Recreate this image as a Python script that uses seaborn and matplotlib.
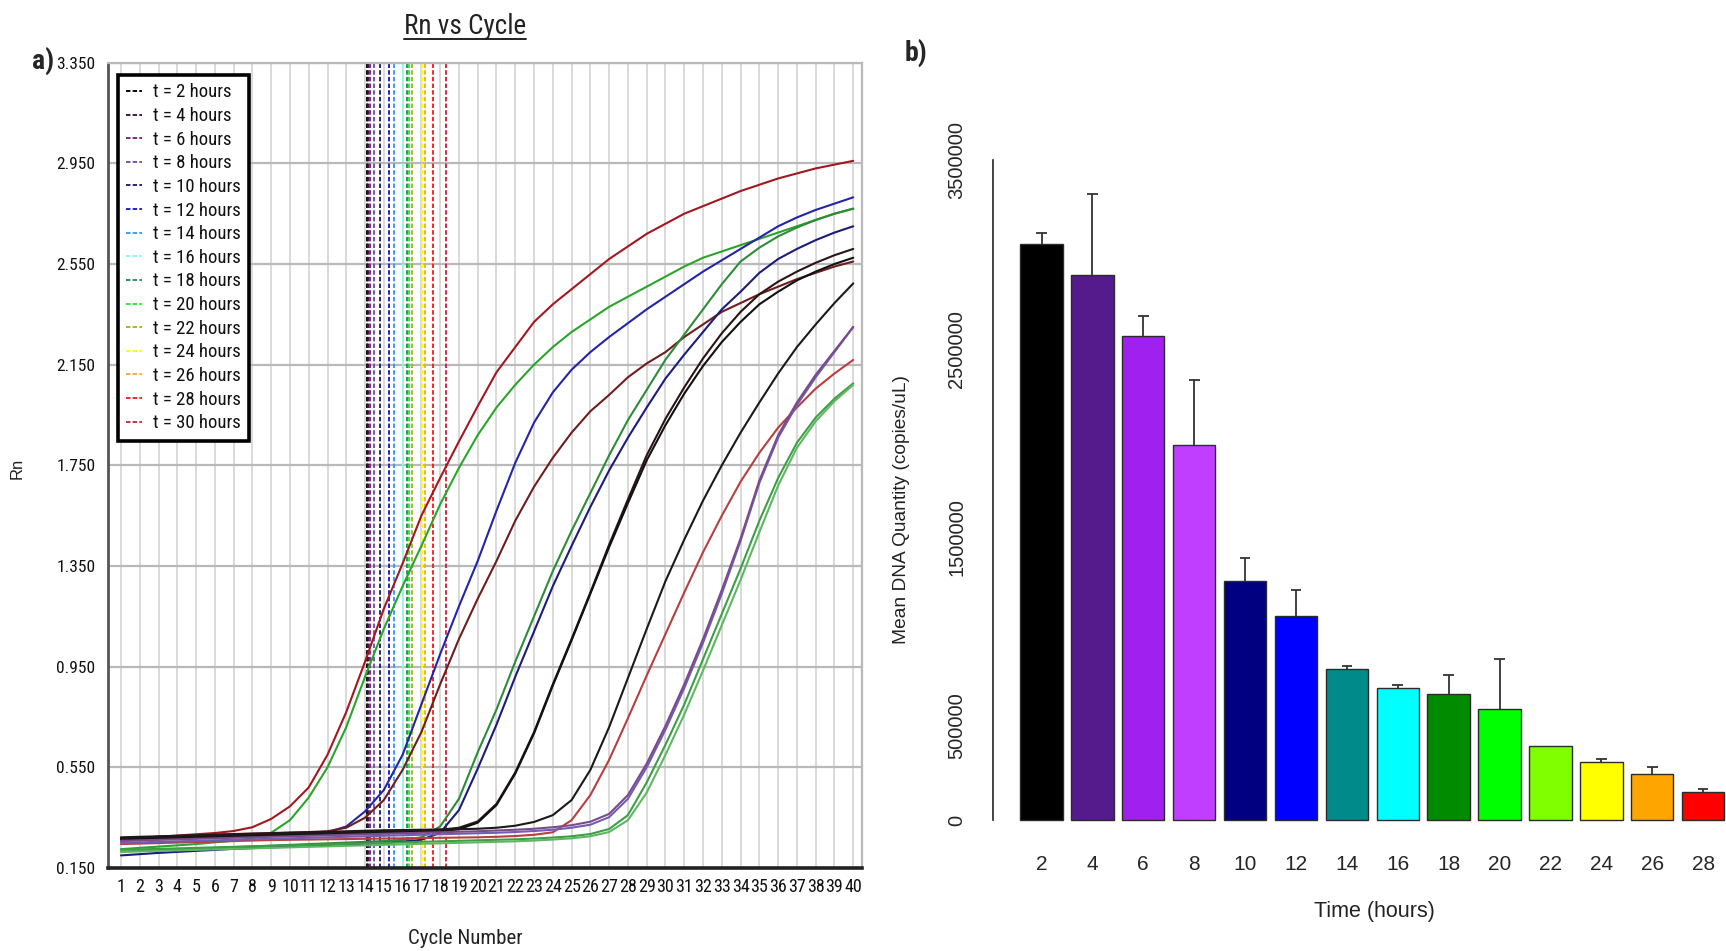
import numpy as np
import pandas as pd
import matplotlib
matplotlib.use("Agg")
import matplotlib.pyplot as plt
import seaborn as sns
from matplotlib import font_manager
from matplotlib.font_manager import FontProperties
from matplotlib.lines import Line2D

# ---------------- data: panel a (amplification curves) ----------------
cycles = list(range(1, 41))

rn_A = [0.265,0.270,0.274,0.279,0.284,0.289,0.297,0.312,0.345,0.395,0.470,0.600,0.770,0.970,1.180,1.360,1.550,1.700,1.845,1.985,2.120,2.220,2.320,2.390,2.450,2.510,2.570,2.620,2.670,2.710,2.750,2.780,2.810,2.840,2.865,2.890,2.910,2.930,2.945,2.960]
rn_B = [0.225,0.230,0.235,0.240,0.245,0.252,0.258,0.268,0.290,0.340,0.430,0.550,0.710,0.910,1.100,1.270,1.430,1.595,1.740,1.870,1.980,2.070,2.150,2.220,2.280,2.330,2.380,2.420,2.460,2.500,2.540,2.575,2.600,2.625,2.650,2.675,2.700,2.725,2.750,2.770]
rn_C = [0.258,0.261,0.264,0.267,0.270,0.273,0.276,0.279,0.282,0.285,0.288,0.292,0.315,0.375,0.460,0.600,0.800,1.000,1.190,1.370,1.570,1.760,1.920,2.040,2.130,2.200,2.260,2.315,2.370,2.420,2.470,2.520,2.565,2.610,2.655,2.700,2.735,2.765,2.790,2.815]
rn_D = [0.268,0.271,0.274,0.277,0.280,0.283,0.285,0.287,0.289,0.291,0.293,0.296,0.310,0.350,0.420,0.540,0.690,0.880,1.060,1.220,1.370,1.530,1.665,1.780,1.880,1.965,2.030,2.100,2.155,2.200,2.260,2.310,2.360,2.395,2.430,2.460,2.490,2.515,2.540,2.560]
rn_E = [0.215,0.218,0.221,0.224,0.227,0.230,0.233,0.236,0.239,0.242,0.245,0.248,0.251,0.254,0.257,0.262,0.272,0.315,0.425,0.610,0.780,0.970,1.150,1.330,1.490,1.640,1.790,1.930,2.050,2.170,2.270,2.370,2.470,2.560,2.615,2.660,2.695,2.725,2.750,2.770]
rn_F = [0.200,0.205,0.210,0.214,0.218,0.222,0.226,0.229,0.232,0.235,0.238,0.241,0.244,0.247,0.250,0.254,0.262,0.290,0.380,0.545,0.720,0.910,1.090,1.270,1.430,1.585,1.730,1.860,1.980,2.095,2.190,2.280,2.370,2.440,2.515,2.570,2.610,2.645,2.675,2.700]
rn_G1 = [0.268,0.270,0.272,0.274,0.276,0.278,0.280,0.282,0.284,0.286,0.288,0.290,0.292,0.294,0.296,0.298,0.300,0.302,0.310,0.335,0.405,0.530,0.690,0.880,1.060,1.245,1.435,1.615,1.790,1.935,2.060,2.175,2.275,2.360,2.430,2.480,2.520,2.555,2.585,2.610]
rn_G2 = [0.262,0.264,0.266,0.268,0.270,0.272,0.274,0.276,0.278,0.280,0.282,0.284,0.286,0.288,0.290,0.292,0.294,0.296,0.304,0.330,0.400,0.525,0.685,0.875,1.055,1.240,1.425,1.600,1.770,1.910,2.035,2.145,2.240,2.320,2.390,2.440,2.485,2.520,2.550,2.575]
rn_H = [0.272,0.274,0.276,0.278,0.280,0.282,0.284,0.286,0.288,0.290,0.292,0.294,0.296,0.298,0.300,0.301,0.302,0.303,0.304,0.306,0.310,0.318,0.333,0.360,0.420,0.540,0.710,0.905,1.100,1.290,1.455,1.610,1.750,1.880,2.000,2.115,2.220,2.310,2.395,2.473]
rn_I = [0.245,0.247,0.249,0.251,0.253,0.255,0.257,0.259,0.261,0.262,0.263,0.264,0.265,0.266,0.267,0.268,0.269,0.270,0.271,0.272,0.274,0.277,0.282,0.292,0.340,0.440,0.580,0.745,0.915,1.080,1.245,1.405,1.550,1.685,1.800,1.900,1.980,2.055,2.115,2.169]
rn_J1 = [0.250,0.252,0.254,0.256,0.258,0.260,0.262,0.264,0.266,0.268,0.270,0.272,0.274,0.276,0.278,0.280,0.282,0.284,0.286,0.288,0.290,0.293,0.297,0.302,0.310,0.322,0.352,0.425,0.550,0.700,0.865,1.045,1.240,1.450,1.680,1.860,1.990,2.100,2.200,2.300]
rn_J2 = [0.258,0.260,0.262,0.264,0.266,0.268,0.270,0.272,0.274,0.276,0.278,0.280,0.282,0.284,0.286,0.288,0.290,0.292,0.294,0.296,0.299,0.302,0.306,0.312,0.320,0.334,0.365,0.440,0.565,0.715,0.880,1.060,1.255,1.460,1.690,1.870,2.000,2.110,2.205,2.300]
rn_K1 = [0.222,0.224,0.226,0.228,0.230,0.232,0.234,0.236,0.238,0.240,0.242,0.244,0.246,0.248,0.250,0.252,0.254,0.256,0.258,0.260,0.262,0.264,0.267,0.271,0.276,0.285,0.305,0.360,0.490,0.640,0.800,0.980,1.160,1.340,1.530,1.700,1.840,1.940,2.015,2.076]
rn_K2 = [0.214,0.216,0.218,0.220,0.222,0.224,0.226,0.228,0.230,0.232,0.234,0.236,0.238,0.240,0.242,0.244,0.246,0.248,0.250,0.252,0.254,0.256,0.259,0.263,0.268,0.276,0.293,0.340,0.450,0.600,0.760,0.935,1.115,1.295,1.485,1.670,1.820,1.925,2.005,2.070]

curve_names = ["A", "B", "C", "D", "E", "F", "G1", "G2", "H", "I", "J1", "J2", "K1", "K2"]
curve_values = [rn_A, rn_B, rn_C, rn_D, rn_E, rn_F, rn_G1, rn_G2, rn_H, rn_I, rn_J1, rn_J2, rn_K1, rn_K2]
curve_colors = ["#a3171f", "#2aa52a", "#2424a8", "#6e1e1e", "#2e8b3a", "#1c1c7a", "#2b1414",
                "#111111", "#1a1a1a", "#b5403f", "#6f5db8", "#7b4b88", "#3e9e48", "#5db860"]

threshold_hours = [2, 4, 6, 8, 10, 12, 14, 16, 18, 20, 22, 24, 26, 28, 30]
threshold_cycles = [14.08, 14.17, 14.26, 14.47, 14.79, 15.29, 15.54, 16.03, 16.21, 16.35, 16.48, 17.01, 17.19, 17.63, 18.29]
threshold_colors = ["#000000", "#3a0d35", "#861a86", "#7050b0", "#202060", "#1a1ad0", "#3399ff", "#80ffee",
                    "#2e8b57", "#22ee22", "#9ab82a", "#ffff00", "#f0b030", "#ff1a1a", "#c8283c"]

rn_ticks = [0.150, 0.550, 0.950, 1.350, 1.750, 2.150, 2.550, 2.950, 3.350]

# ---------------- data: panel b (bars) ----------------
bar_hours = [2, 4, 6, 8, 10, 12, 14, 16, 18, 20, 22, 24, 26, 28]
bar_means = [3056000, 2894000, 2569000, 1987000, 1270000, 1081000, 803000, 702000, 667000, 588000, 390000, 307000, 242000, 147000]
bar_err = [60000, 425000, 107000, 350000, 119000, 140000, 12000, 12000, 103000, 266000, 0, 19000, 37000, 16000]
bar_colors = ["#000000", "#551a8b", "#a020f0", "#bf3eff", "#000080", "#0000ff", "#008b8b",
              "#00ffff", "#008b00", "#00ff00", "#7fff00", "#ffff00", "#ffa500", "#ff0000"]
bar_yticks = [0, 500000, 1000000, 1500000, 2000000, 2500000, 3000000, 3500000]
bar_yticklabels = ["0", "500000", "", "1500000", "", "2500000", "", "3500000"]

# ---------------- fonts ----------------
sns.set_style("white")
REG = "Liberation Sans"
plt.rcParams["font.family"] = [REG, "DejaVu Sans"]
plt.rcParams["lines.scale_dashes"] = False


def _w(f):
    w = f.weight
    return font_manager.weight_dict.get(w, 400) if isinstance(w, str) else int(w)


def _s(f):
    s = f.stretch
    return font_manager.stretch_dict.get(s, 500) if isinstance(s, str) else int(s)


pref = ["Liberation Sans Narrow", "Roboto Condensed", "Open Sans Condensed", "Noto Sans",
        "Noto Sans Condensed", "DejaVu Sans", "DejaVu Sans Condensed"]
cands = [f for f in font_manager.fontManager.ttflist
         if f.style == "normal" and (_s(f) <= 400 or "Narrow" in f.name or "Condensed" in f.name)
         and "Mono" not in f.name and "CJK" not in f.name and "Serif" not in f.name]


def _pick(target_w):
    if not cands:
        return None
    def key(f):
        pi = pref.index(f.name) if f.name in pref else len(pref)
        return (abs(_s(f) - 300) if "Narrow" not in f.name else 0, pi, abs(_w(f) - target_w))
    return sorted(cands, key=key)[0].fname


NARROW_FILE = _pick(400)
NARROW_BOLD_FILE = _pick(700)
SCALE = 1.0 if NARROW_FILE else 0.84


def NP(size, bold=False):
    fn = NARROW_BOLD_FILE if bold else NARROW_FILE
    if fn:
        p = FontProperties(fname=fn)
    else:
        p = FontProperties(family=[REG, "DejaVu Sans"], weight="bold" if bold else "normal")
    p.set_size(size * SCALE)
    return p


W, H = 1726, 951
fig = plt.figure(figsize=(W / 100, H / 100), dpi=100)
fig.patch.set_facecolor("white")

# ---------------- panel a ----------------
ax1 = fig.add_axes([108 / W, 1 - 868 / H, (861.7 - 108) / W, (868 - 62.7) / H])
rows = []
for nm, vals in zip(curve_names, curve_values):
    for c, v in zip(cycles, vals):
        rows.append({"cycle": c, "rn": v, "well": nm})
df = pd.DataFrame(rows)

for h, c, col in zip(threshold_hours, threshold_cycles, threshold_colors):
    ax1.axvline(c, color=col, ls=(0, (3.2, 1.6)), lw=1.35, label=f"t = {h} hours", zorder=1.5)

sns.lineplot(data=df, x="cycle", y="rn", hue="well", hue_order=curve_names,
             palette=dict(zip(curve_names, curve_colors)), estimator=None, errorbar=None,
             legend=False, lw=1.5, ax=ax1, zorder=2)

ax1.set_xlim(0.31, 40.45)
ax1.set_ylim(0.15, 3.35)
ax1.set_xticks(cycles)
ax1.set_xticklabels([str(c) for c in cycles])
ax1.set_yticks(rn_ticks)
ax1.set_yticklabels([f"{t:.3f}" for t in rn_ticks])
ax1.set_axisbelow(True)
ax1.grid(axis="x", color="#cfcfcf", lw=1.1)
ax1.grid(axis="y", color="#b9b9b9", lw=1.6)
ax1.set_xlabel("")
ax1.set_ylabel("")
ax1.tick_params(axis="x", length=0, pad=7, colors="#111111")
ax1.tick_params(axis="y", length=0, pad=9, colors="#111111")
for lab in ax1.get_xticklabels():
    lab.set_fontproperties(NP(13))
for lab in ax1.get_yticklabels():
    lab.set_fontproperties(NP(12.5))
ax1.spines["left"].set_color("#555555")
ax1.spines["left"].set_linewidth(2)
ax1.spines["bottom"].set_color("#222222")
ax1.spines["bottom"].set_linewidth(2.6)
ax1.spines["top"].set_color("#b9b9b9")
ax1.spines["top"].set_linewidth(1.6)
ax1.spines["right"].set_color("#b9b9b9")
ax1.spines["right"].set_linewidth(1.6)

leg = ax1.legend(loc="upper left", bbox_to_anchor=(0.0133, 0.9847), borderaxespad=0,
                 frameon=True, fancybox=False, framealpha=1, edgecolor="black",
                 prop=NP(13.5), handlelength=0.85, handletextpad=0.55,
                 labelspacing=0.3, borderpad=0.45)
leg.get_frame().set_linewidth(2.6)
for t in leg.get_texts():
    t.set_color("#111111")

title = fig.text(465 / W, 1 - 26 / H, "Rn vs Cycle", ha="center", va="center",
                 fontproperties=NP(19.5), color="#222222")
fig.text(43 / W, 1 - 61 / H, "a)", ha="center", va="center", fontproperties=NP(20, bold=True))
fig.text(17 / W, 1 - 468 / H, "Rn", ha="center", va="center", rotation=90,
         fontsize=12, family=[REG, "DejaVu Sans"], color="#222222")
fig.text(465 / W, 1 - 938 / H, "Cycle Number", ha="center", va="center",
         fontproperties=NP(15), color="#222222")

# ---------------- panel b ----------------
ax2 = fig.add_axes([992.6 / W, 1 - 840 / H, (W - 992.6) / W, 700 / H])
dfb = pd.DataFrame({"time": [str(h) for h in bar_hours], "mean": bar_means})
sns.barplot(data=dfb, x="time", y="mean", hue="time", palette=bar_colors, legend=False,
            width=1 / 1.2, saturation=1, edgecolor="#2b2b2b", linewidth=1.0, ax=ax2)

pos = np.arange(len(bar_hours))
means = np.array(bar_means, dtype=float)
errs = np.array(bar_err, dtype=float)
m = errs > 0
ax2.vlines(pos[m], means[m], means[m] + errs[m], color="#333333", lw=1.3, zorder=3)
ax2.hlines(means[m] + errs[m], pos[m] - 0.105, pos[m] + 0.105, color="#333333", lw=1.3, zorder=3)

ax2.set_xlim(-0.961, 13.45)
ax2.set_ylim(-106100, 3607700)
ax2.set_yticks(bar_yticks)
ax2.set_yticklabels(bar_yticklabels)
ax2.set_xticks(pos)
ax2.set_xticklabels([str(h) for h in bar_hours])
ax2.set_xlabel("")
ax2.set_ylabel("")
for s in ["top", "right", "bottom"]:
    ax2.spines[s].set_visible(False)
ax2.spines["left"].set_bounds(0, 3500000)
ax2.spines["left"].set_color("#222222")
ax2.spines["left"].set_linewidth(1.2)
ax2.tick_params(axis="y", direction="out", length=10, width=1.2, color="#222222",
                pad=9, labelsize=14.5)
for lab in ax2.get_yticklabels():
    lab.set_rotation(90)
    lab.set_va("center")
ax2.tick_params(axis="x", length=0, pad=11, labelsize=15)
ax2.grid(False)

fig.text(901 / W, 1 - 509 / H, "Mean DNA Quantity (copies/uL)", ha="center", va="center",
         rotation=90, fontsize=13.8, family=[REG, "DejaVu Sans"], color="#222222")
fig.text(1374 / W, 1 - 912 / H, "Time (hours)", ha="center", va="center",
         fontsize=15.5, family=[REG, "DejaVu Sans"], color="#222222")
fig.text(916 / W, 1 - 53 / H, "b)", ha="center", va="center", fontproperties=NP(20, bold=True))

# underline the title
fig.canvas.draw()
bb = title.get_window_extent()
uy = (bb.y0 + 1) / H
fig.add_artist(Line2D([bb.x0 / W, bb.x1 / W], [uy, uy], transform=fig.transFigure,
                      color="#222222", lw=1.4))

fig.savefig("out.png", dpi=100, facecolor="white")
